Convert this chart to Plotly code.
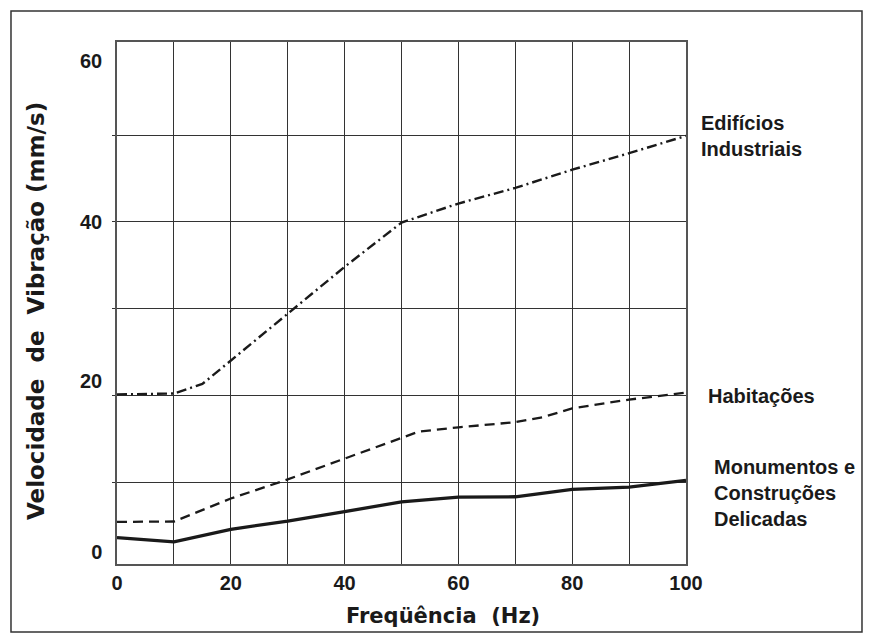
import plotly.graph_objects as go

# ---- data ----
freq_ind = [0, 10, 15, 20, 30, 40, 50, 60, 70, 80, 90, 100]
v_ind = [20.1, 20.2, 21.3, 24.0, 29.5, 34.8, 39.9, 42.1, 43.9, 46.0, 47.9, 49.9]

freq_hab = [0, 10, 20, 30, 40, 50, 53, 60, 70, 75, 80, 90, 100]
v_hab = [5.4, 5.45, 8.1, 10.3, 12.7, 15.1, 15.8, 16.3, 16.9, 17.5, 18.5, 19.5, 20.3]

freq_del = [0, 10, 20, 30, 40, 50, 60, 70, 80, 90, 100]
v_del = [3.6, 3.1, 4.55, 5.5, 6.6, 7.7, 8.25, 8.3, 9.15, 9.4, 10.2]

y_grid = [10, 20, 30, 40, 50]
y_label_pos = [58.5, 40, 21.6, 1.9]
y_label_text = ["60", "40", "20", "0"]
x_ticks = [0, 20, 40, 60, 80, 100]

labels = ["Edifícios<br>Industriais", "Habitações", "Monumentos e<br>Construções<br>Delicadas"]
label_y = [49.9, 19.9, 8.75]
label_shift = [13, 20, 26]

x_title = "Freqüência\u00a0\u00a0(Hz)"
y_title = "Velocidade\u00a0\u00a0de\u00a0\u00a0Vibração (mm/s)"

# ---- figure ----
ink = "#1a1a1a"
fig = go.Figure()
fig.add_trace(go.Scatter(x=freq_ind, y=v_ind, mode="lines",
                         line=dict(color=ink, width=2.4, dash="10px,4px,2px,4px")))
fig.add_trace(go.Scatter(x=freq_hab, y=v_hab, mode="lines",
                         line=dict(color=ink, width=2.3, dash="10px,6px")))
fig.add_trace(go.Scatter(x=freq_del, y=v_del, mode="lines",
                         line=dict(color=ink, width=3.3)))

tick_font = dict(family="Liberation Sans, Arial, sans-serif", size=20, color=ink, weight="bold")
lab_font = dict(family="Liberation Sans, Arial, sans-serif", size=20, color=ink, weight="bold")
title_font = dict(family="DejaVu Sans, sans-serif", size=21, color=ink, weight="bold")

# page body has an 8px margin on top/left; figure sized so the plot area lands where the reference has it
fig.update_layout(
    width=865, height=635,
    margin=dict(l=109, r=187, t=34, b=79),
    paper_bgcolor="white", plot_bgcolor="white",
    showlegend=False,
    xaxis=dict(range=[0, 100], tickvals=x_ticks, showgrid=True, gridcolor="#333333", gridwidth=1.2,
               ticks="",
               minor=dict(dtick=10, tick0=0, showgrid=True, gridcolor="#333333", gridwidth=1.2),
               showline=True, mirror=True, linecolor="#555555", linewidth=1.5,
               zeroline=False, tickfont=tick_font, ticklabelstandoff=0),
    yaxis=dict(range=[0.55, 60.72], tickmode="array", tickvals=y_label_pos, ticktext=y_label_text,
               showgrid=False, ticks="",
               minor=dict(tickmode="array", tickvals=y_grid, showgrid=True, gridcolor="#333333",
                          gridwidth=1.2, ticks="outside", ticklen=3, tickcolor="#333333"),
               showline=True, mirror=True, linecolor="#555555", linewidth=1.5,
               zeroline=False, tickfont=tick_font, ticklabelstandoff=9),
)

for txt, yv, sh in zip(labels, label_y, label_shift):
    fig.add_annotation(x=100, y=yv, xref="x", yref="y", text=txt, showarrow=False,
                       xanchor="left", yanchor="middle", align="left", xshift=sh,
                       font=lab_font)

fig.add_annotation(x=0.5738, y=-0.0996, xref="paper", yref="paper", text=x_title,
                   showarrow=False, xanchor="center", yanchor="middle", font=title_font)
fig.add_annotation(x=-0.1424, y=0.4847, xref="paper", yref="paper", text=y_title,
                   showarrow=False, textangle=-90, xanchor="center", yanchor="middle",
                   font=dict(family="DejaVu Sans, sans-serif", size=23, color=ink, weight="bold"))

# outer frame around the whole figure
fig.add_shape(type="rect", xref="paper", yref="paper", x0=-0.1863, x1=1.3093, y0=-0.1303, y1=1.0594,
              line=dict(color="#333333", width=1.5), layer="below")

fig.write_html("out.html")
